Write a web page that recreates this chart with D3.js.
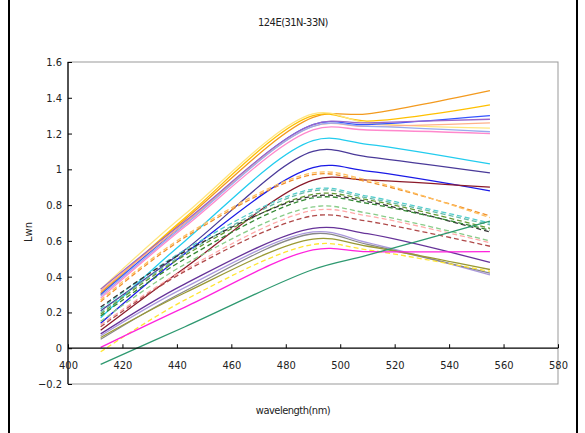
<!DOCTYPE html>
<html>
<head>
<meta charset="utf-8">
<script src="https://cdn.jsdelivr.net/npm/d3@7.9.0/dist/d3.min.js"></script>
<style>
  body { margin: 0; background: #fff; }
  svg text { font-family: "Liberation Sans Narrow", "DejaVu Sans Condensed", "Liberation Sans", sans-serif; fill: #222; }
</style>
</head>
<body>
<svg width="585" height="433"></svg>
<script>
// wavelengths (nm) of the bands
const bands = [412, 443, 490, 510, 555];
const xTicks = [400, 420, 440, 460, 480, 500, 520, 540, 560, 580];
const yTicks = [-0.2, 0, 0.2, 0.4, 0.6, 0.8, 1, 1.2, 1.4, 1.6];

// one row per station: Lwn at each band
const stationValues = [
  [0.31, 0.72, 1.29, 1.31, 1.44],
  [0.30, 0.73, 1.30, 1.27, 1.36],
  [0.33, 0.75, 1.31, 1.26, 1.23],
  [0.30, 0.70, 1.25, 1.25, 1.30],
  [0.33, 0.71, 1.25, 1.26, 1.28],
  [0.32, 0.70, 1.24, 1.24, 1.26],
  [0.29, 0.69, 1.24, 1.24, 1.21],
  [0.28, 0.68, 1.22, 1.22, 1.20],
  [0.17, 0.60, 1.16, 1.14, 1.03],
  [0.21, 0.55, 1.10, 1.07, 0.98],
  [0.14, 0.53, 1.01, 0.99, 0.88],
  [0.10, 0.45, 0.94, 0.94, 0.90],
  [0.26, 0.62, 0.97, 0.93, 0.74],
  [0.27, 0.63, 0.98, 0.94, 0.73],
  [0.22, 0.55, 0.89, 0.85, 0.70],
  [0.20, 0.53, 0.88, 0.84, 0.69],
  [0.19, 0.52, 0.86, 0.83, 0.67],
  [0.23, 0.54, 0.85, 0.82, 0.65],
  [0.18, 0.50, 0.84, 0.81, 0.66],
  [0.15, 0.47, 0.79, 0.755, 0.60],
  [0.13, 0.44, 0.77, 0.74, 0.59],
  [0.12, 0.43, 0.74, 0.71, 0.57],
  [0.08, 0.36, 0.67, 0.64, 0.48],
  [0.07, 0.34, 0.65, 0.59, 0.41],
  [0.05, 0.32, 0.64, 0.58, 0.42],
  [0.06, 0.31, 0.61, 0.57, 0.44],
  [-0.02, 0.27, 0.58, 0.55, 0.43],
  [0.005, 0.23, 0.55, 0.54, 0.54],
  [-0.09, 0.12, 0.44, 0.52, 0.71]
];
const stationColors = [
  '#f39a1e', '#ffc000', '#ffe680', '#3355ff', '#9966cc', '#ffb08a', '#99aaee', '#ff88cc',
  '#22ccee', '#4a3a99', '#1a1ae6', '#8b1a2a',
  '#f0902a', '#ffc060', '#55cccc', '#66bbaa', '#669933', '#333333', '#338833', '#88cc88',
  '#ffaaaa', '#b04a4a',
  '#663399', '#aa99dd', '#888888', '#999933', '#ffe633', '#ff22dd', '#2e9970'
];
const stationDashed = [
  false, false, false, false, false, false, false, false,
  false, false, false, false,
  true, true, true, true, true, true, true, true, true, true,
  false, false, false, false, true, false, false
];

const svg = d3.select('svg');
const plotLeft = 68, plotRight = 558, plotTop = 62, plotBottom = 384;

const x = d3.scaleLinear().domain([400, 580]).range([plotLeft, plotRight]);
const y = d3.scaleLinear().domain([-0.2, 1.6]).range([plotBottom, plotTop]);

// outer frame
svg.append('rect')
  .attr('x', 9).attr('y', -2).attr('width', 568).attr('height', 437)
  .attr('fill', 'none').attr('stroke', '#000').attr('stroke-width', 2);

// plot box
svg.append('rect')
  .attr('x', plotLeft).attr('y', plotTop).attr('width', plotRight - plotLeft).attr('height', plotBottom - plotTop)
  .attr('fill', 'none').attr('stroke', '#999').attr('stroke-width', 1);

// lines
const line = d3.line()
  .x((d, i) => x(bands[i]))
  .y(d => y(d))
  .curve(d3.curveCatmullRom);

stationValues.forEach((vals, idx) => {
  svg.append('path')
    .attr('d', line(vals))
    .attr('fill', 'none')
    .attr('stroke', stationColors[idx])
    .attr('stroke-width', 1.3)
    .attr('stroke-dasharray', stationDashed[idx] ? '5,3' : null);
});

// y axis
const yAxis = svg.append('g')
  .attr('transform', `translate(${plotLeft},0)`)
  .call(d3.axisRight(y).tickValues(yTicks).tickSize(4).tickFormat(d3.format('')));
yAxis.select('.domain').remove();
yAxis.selectAll('text').attr('x', -6).attr('text-anchor', 'end').style('font-size', '11px');
svg.append('line')
  .attr('x1', plotLeft).attr('x2', plotLeft).attr('y1', plotTop).attr('y2', plotBottom)
  .attr('stroke', '#000').attr('stroke-width', 1.2);

// x axis crossing at 0
const xAxis = svg.append('g')
  .attr('transform', `translate(0,${y(0)})`)
  .call(d3.axisTop(x).tickValues(xTicks).tickSize(4));
xAxis.select('.domain').remove();
xAxis.selectAll('text').attr('y', 21).style('font-size', '11px');
svg.append('line')
  .attr('x1', plotLeft).attr('x2', plotRight).attr('y1', y(0)).attr('y2', y(0))
  .attr('stroke', '#000').attr('stroke-width', 1.2);

// titles
svg.append('text')
  .attr('x', 293).attr('y', 26)
  .attr('text-anchor', 'middle').style('font-size', '11px').style('letter-spacing', '-0.5px')
  .text('124E(31N-33N)');
svg.append('text')
  .attr('x', 293).attr('y', 414)
  .attr('text-anchor', 'middle').style('font-size', '11px').style('letter-spacing', '-0.5px')
  .text('wavelength(nm)');
svg.append('text')
  .attr('transform', 'translate(32,232) rotate(-90)')
  .attr('text-anchor', 'middle').style('font-size', '11px')
  .text('Lwn');
</script>
</body>
</html>
